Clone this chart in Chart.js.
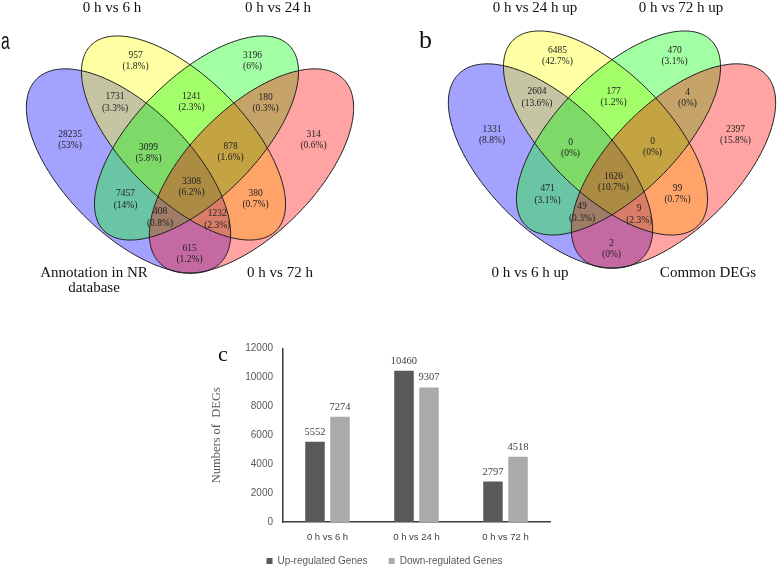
<!DOCTYPE html>
<html>
<head>
<meta charset="utf-8">
<script src="https://cdn.jsdelivr.net/npm/chart.js@4.4.1/dist/chart.umd.min.js"></script>
<style>
  body { margin: 0; width: 778px; height: 567px; overflow: hidden; background: #fff; position: relative; }
  canvas { position: absolute; }
  .tag { position: absolute; line-height: 1; color: #111; }
</style>
</head>
<body>
<canvas id="vennA" width="389" height="300" style="left:0;top:0"></canvas>
<canvas id="vennB" width="389" height="300" style="left:389px;top:0"></canvas>
<canvas id="barC" width="384" height="246" style="left:190px;top:330px"></canvas>
<div class="tag" style="left:1px;top:28px;font:23px 'Liberation Sans',sans-serif;transform:scaleX(0.68);transform-origin:left top">a</div>
<div class="tag" style="left:419px;top:25px;font:26px 'Liberation Serif',serif">b</div>
<div class="tag" style="left:218px;top:341px;font:22px 'Liberation Serif',serif">c</div>
<script>
// ---- data ----
// Venn regions: A = left outer set, B = left inner, C = right inner, D = right outer
const regionKeys = ['A', 'B', 'C', 'D', 'AB', 'BC', 'CD', 'ABC', 'BCD', 'ABCD', 'AC', 'BD', 'ACD', 'ABD', 'AD'];

const setNamesA = ['Annotation in NR\ndatabase', '0 h vs 6 h', '0 h vs 24 h', '0 h vs 72 h'];
const countsA = [28235, 957, 3196, 314, 1731, 1241, 180, 3099, 878, 3308, 7457, 380, 408, 1232, 615];
const percentsA = ['53%', '1.8%', '6%', '0.6%', '3.3%', '2.3%', '0.3%', '5.8%', '1.6%', '6.2%', '14%', '0.7%', '0.8%', '2.3%', '1.2%'];

const setNamesB = ['0 h vs 6 h up', '0 h vs 24 h up', '0 h vs 72 h up', 'Common DEGs'];
const countsB = [1331, 6485, 470, 2397, 2604, 177, 4, 0, 0, 1626, 471, 99, 49, 9, 2];
const percentsB = ['8.8%', '42.7%', '3.1%', '15.8%', '13.6%', '1.2%', '0%', '0%', '0%', '10.7%', '3.1%', '0.7%', '0.3%', '2.3%', '0%'];

const categories = ['0 h vs 6 h', '0 h vs 24 h', '0 h vs 72 h'];
const upRegulated = [5552, 10460, 2797];
const downRegulated = [7274, 9307, 4518];
const yTicks = [0, 2000, 4000, 6000, 8000, 10000, 12000];

// ---- venn layout (venn units, y up, 1 unit = 100px) ----
const ellipses = [
  { cx: -0.615, cy: 0, a: 1.30, b: 0.63, rot: -45, rgb: '0,0,255' },
  { cx: -0.065, cy: 0.33, a: 1.31, b: 0.605, rot: -45, rgb: '255,255,0' },
  { cx: 0.065, cy: 0.33, a: 1.31, b: 0.605, rot: 45, rgb: '0,255,0' },
  { cx: 0.615, cy: 0, a: 1.30, b: 0.63, rot: 45, rgb: '255,0,0' }
];
const regionAnchors = [
  [-1.20, 0.31], [-0.545, 1.10], [0.625, 1.10], [1.235, 0.31],
  [-0.75, 0.685], [0.015, 0.69], [0.755, 0.68],
  [-0.415, 0.18], [0.405, 0.19], [0.015, -0.16],
  [-0.645, -0.285], [0.655, -0.28], [-0.30, -0.465], [0.272, -0.483], [-0.005, -0.83]
];
const setLabelPosA = [[-0.96, -1.095], [-0.78, 1.63], [0.88, 1.63], [0.90, -1.02]];
const setLabelPosB = [[-0.82, -1.07], [-0.77, 1.58], [0.69, 1.58], [0.96, -1.07]];

const vennPlugin = {
  id: 'venn',
  beforeDatasetsDraw(chart) {
    const { ctx, scales: { x, y } } = chart;
    const path = (e) => {
      const r = e.rot * Math.PI / 180;
      ctx.beginPath();
      for (let i = 0; i <= 240; i++) {
        const t = i / 240 * Math.PI * 2;
        const ux = e.cx + e.a * Math.cos(t) * Math.cos(r) - e.b * Math.sin(t) * Math.sin(r);
        const uy = e.cy + e.a * Math.cos(t) * Math.sin(r) + e.b * Math.sin(t) * Math.cos(r);
        const px = x.getPixelForValue(ux), py = y.getPixelForValue(uy);
        if (i === 0) ctx.moveTo(px, py); else ctx.lineTo(px, py);
      }
      ctx.closePath();
    };
    ctx.save();
    ellipses.forEach(e => { path(e); ctx.fillStyle = `rgba(${e.rgb},0.36)`; ctx.fill(); });
    ctx.strokeStyle = '#1e1e1e';
    ctx.lineWidth = 1;
    ellipses.forEach(e => { path(e); ctx.stroke(); });
    ctx.restore();
  },
  afterDatasetsDraw(chart, args, opts) {
    const { ctx, scales: { x, y } } = chart;
    const meta = chart.getDatasetMeta(0);
    ctx.save();
    ctx.fillStyle = '#222';
    ctx.textAlign = 'center';
    ctx.textBaseline = 'middle';
    ctx.font = "9.5px 'Liberation Serif'";
    meta.data.forEach((pt, i) => {
      ctx.fillText(String(opts.counts[i]), pt.x, pt.y - 5.8);
      ctx.fillText('(' + opts.percents[i] + ')', pt.x, pt.y + 5.8);
    });
    ctx.font = "15px 'Liberation Serif'";
    ctx.fillStyle = '#111';
    opts.names.forEach((name, i) => {
      const lines = name.split('\n');
      const px = x.getPixelForValue(opts.namePos[i][0]);
      const py = y.getPixelForValue(opts.namePos[i][1]);
      lines.forEach((ln, k) => ctx.fillText(ln, px, py + (k - (lines.length - 1) / 2) * 15.5));
    });
    ctx.restore();
  }
};

function makeVenn(id, originX, originY, counts, percents, names, namePos) {
  const canvas = document.getElementById(id);
  return new Chart(canvas, {
    type: 'scatter',
    data: {
      datasets: [{
        data: regionAnchors.map(p => ({ x: p[0], y: p[1] })),
        pointRadius: 0
      }]
    },
    options: {
      responsive: false,
      animation: false,
      events: [],
      layout: { padding: 0 },
      plugins: {
        legend: { display: false },
        tooltip: { enabled: false },
        venn: { counts, percents, names, namePos }
      },
      scales: {
        x: { type: 'linear', display: false, min: -originX / 100, max: (canvas.width - originX) / 100 },
        y: { type: 'linear', display: false, min: -(canvas.height - originY) / 100, max: originY / 100 }
      }
    },
    plugins: [vennPlugin]
  });
}

makeVenn('vennA', 190, 171, countsA, percentsA, setNamesA, setLabelPosA);
makeVenn('vennB', 223, 166, countsB, percentsB, setNamesB, setLabelPosB);

// ---- bar chart ----
const valueLabels = {
  id: 'valueLabels',
  afterDatasetsDraw(chart) {
    const { ctx } = chart;
    ctx.save();
    ctx.fillStyle = '#404040';
    ctx.font = "10.5px 'Liberation Serif'";
    ctx.textAlign = 'center';
    ctx.textBaseline = 'alphabetic';
    chart.data.datasets.forEach((ds, di) => {
      chart.getDatasetMeta(di).data.forEach((bar, i) => {
        ctx.fillText(String(ds.data[i]), bar.x, bar.y - 7);
      });
    });
    ctx.restore();
  }
};

new Chart(document.getElementById('barC'), {
  type: 'bar',
  data: {
    labels: categories,
    datasets: [
      // trailing spaces widen the first legend item to match the gap in the reference
      { label: 'Up-regulated Genes    ', data: upRegulated, backgroundColor: '#595959', borderWidth: 0,
        categoryPercentage: 0.562, barPercentage: 0.78 },
      { label: 'Down-regulated Genes', data: downRegulated, backgroundColor: '#aaaaaa', borderWidth: 0,
        categoryPercentage: 0.562, barPercentage: 0.78 }
    ]
  },
  options: {
    responsive: false,
    animation: false,
    events: [],
    layout: { padding: { left: 29, right: 24, top: 18.5, bottom: 0 } },
    plugins: {
      tooltip: { enabled: false },
      legend: {
        position: 'bottom',
        labels: { boxWidth: 6, boxHeight: 6, padding: 10, color: '#595959',
          font: { family: 'Liberation Sans', size: 10 } }
      }
    },
    scales: {
      x: {
        grid: { display: false, drawTicks: false },
        border: { display: true, color: '#3a3a3a', width: 1.5 },
        ticks: { padding: 10, color: '#404040', font: { family: 'Liberation Sans', size: 9.5 } },
        afterFit(s) { s.height = 24; }
      },
      y: {
        min: 0,
        max: 12000,
        afterBuildTicks(s) { s.ticks = yTicks.map(v => ({ value: v })); },
        grid: { display: false, drawTicks: false },
        border: { display: true, color: '#3a3a3a', width: 1.5 },
        ticks: { padding: 10, color: '#595959', font: { family: 'Liberation Sans', size: 10 },
          callback: v => String(v) },
        title: { display: true, text: 'Numbers of  DEGs', color: '#595959',
          font: { family: 'Liberation Serif', size: 12.5 }, padding: { top: -9.5, bottom: 0 } },
        afterFit(s) { s.width = 64; }
      }
    }
  },
  plugins: [valueLabels]
});
</script>
</body>
</html>
